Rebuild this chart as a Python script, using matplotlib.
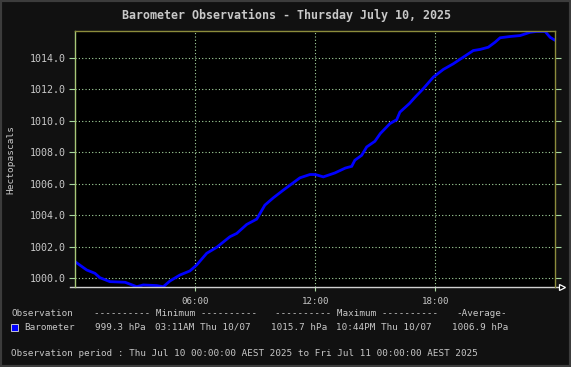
import matplotlib.pyplot as plt
from matplotlib.lines import Line2D
from matplotlib import rcParams

rcParams['font.family'] = 'DejaVu Sans Mono'

BG = '#111111'
FRAME = '#3c3c3c'
TXT = '#c8c8c8'
GRID = '#a8d8a0'
OLIVE = '#8c8c3c'
LEFT = '#a8c878'
AXLINE = '#d0d0d0'
LINE = '#0000ff'

# hours since midnight, pressure (hPa)
hours = [0.03, 0.57, 0.98, 1.23, 1.73, 2.49, 3.07, 3.4, 4.07, 4.4, 4.73, 5.23,
         5.73, 6.07, 6.57, 7.07, 7.73, 8.07, 8.57, 9.07, 9.48, 9.9, 10.4, 10.73,
         11.23, 11.73, 12.0, 12.4, 12.98, 13.5, 13.82, 13.98, 14.32, 14.57,
         14.98, 15.25, 15.73, 16.07, 16.23, 16.7, 16.99, 17.4, 17.9, 18.4,
         18.9, 19.4, 19.9, 20.24, 20.65, 20.99, 21.24, 21.74, 22.24, 22.74,
         23.07, 23.49, 23.74, 23.95]
hpa = [1001.02, 1000.53, 1000.32, 1000.04, 999.79, 999.75, 999.47, 999.58,
       999.54, 999.47, 999.83, 1000.21, 1000.47, 1000.85, 1001.59, 1001.97,
       1002.64, 1002.85, 1003.42, 1003.76, 1004.65, 1005.11, 1005.6, 1005.91,
       1006.38, 1006.59, 1006.59, 1006.44, 1006.69, 1007.0, 1007.11, 1007.5,
       1007.81, 1008.34, 1008.7, 1009.19, 1009.82, 1010.07, 1010.55, 1011.09,
       1011.5, 1012.04, 1012.77, 1013.26, 1013.62, 1014.04, 1014.46, 1014.53,
       1014.67, 1014.99, 1015.27, 1015.35, 1015.41, 1015.62, 1015.67, 1015.67,
       1015.3, 1015.14]

yticks = [1000, 1002, 1004, 1006, 1008, 1010, 1012, 1014]
xticks = [6, 12, 18]
xlabels = ['06:00', '12:00', '18:00']

W, H = 571, 367
fig = plt.figure(figsize=(W / 100, H / 100), dpi=100, facecolor=BG)


def px(x):
    return x / W


def py(y):
    return 1 - y / H


# outer frame
fig.patches.append(plt.Rectangle((0, 0), 1, 1, transform=fig.transFigure,
                                 fill=False, edgecolor=FRAME, linewidth=3))

ax = fig.add_axes([px(75.3), py(287), px(480), 256 / H], facecolor='black')
ax.plot(hours, hpa, color=LINE, lw=2.0, solid_joinstyle='miter')
ax.set_xlim(0, 24)
ax.set_ylim(999.45, 1015.7)

ax.set_yticks(yticks)
ax.set_yticklabels([f'{v:.1f}' for v in yticks])
ax.set_xticks(xticks)
ax.set_xticklabels(xlabels)
ax.grid(True, color=GRID, linestyle=(0, (1, 2)), linewidth=0.8)
ax.tick_params(axis='y', colors=GRID, labelcolor=TXT, labelsize=7.2, length=4,
               width=0.8, pad=3, right=True)
ax.tick_params(axis='x', colors=GRID, labelcolor=TXT, labelsize=6.6, length=3,
               width=0.8, pad=4)

ax.spines['left'].set_color(LEFT)
ax.spines['top'].set_color(OLIVE)
ax.spines['right'].set_color(OLIVE)
ax.spines['bottom'].set_visible(False)
for s in ['left', 'top', 'right']:
    ax.spines[s].set_linewidth(1.0)

# x axis line with arrow
ax.add_line(Line2D([-0.012, 1.005], [0, 0], transform=ax.transAxes,
                   color=AXLINE, lw=1.0, clip_on=False))
ax.plot([1.013], [0], transform=ax.transAxes, marker='>', ms=5, mfc='black',
        mec='white', mew=0.9, clip_on=False)

ax.set_ylabel('Hectopascals', color=TXT, fontsize=6.8, labelpad=10)

fig.text(px(286), py(15), 'Barometer Observations - Thursday July 10, 2025',
         color=TXT, fontsize=8.4, fontweight='bold', ha='center', va='center')

# legend
FS = 6.65
fig.text(px(11), py(314), 'Observation', color=TXT, fontsize=FS, va='center')
fig.text(px(94), py(314), '---------- Minimum ----------', color=TXT,
         fontsize=FS, va='center')
fig.text(px(275.3), py(314), '---------- Maximum ----------', color=TXT,
         fontsize=FS, va='center')
fig.text(px(456), py(314), '-Average-', color=TXT, fontsize=FS, va='center')

fig.patches.append(plt.Rectangle((px(11), py(330.5)), px(6.5), 6.5 / H,
                                 transform=fig.transFigure, facecolor=LINE,
                                 edgecolor='#e0e0e0', linewidth=0.6))
fig.text(px(24.3), py(327), 'Barometer', color=TXT, fontsize=FS, va='center')
fig.text(px(95), py(327), '999.3 hPa', color=TXT, fontsize=FS, va='center')
fig.text(px(155), py(327), '03:11AM Thu 10/07', color=TXT, fontsize=FS, va='center')
fig.text(px(270.7), py(327), '1015.7 hPa', color=TXT, fontsize=FS, va='center')
fig.text(px(336), py(327), '10:44PM Thu 10/07', color=TXT, fontsize=FS, va='center')
fig.text(px(451.7), py(327), '1006.9 hPa', color=TXT, fontsize=FS, va='center')

fig.text(px(11), py(353),
         'Observation period : Thu Jul 10 00:00:00 AEST 2025 to Fri Jul 11 00:00:00 AEST 2025',
         color=TXT, fontsize=FS, va='center')

plt.savefig('out.png', dpi=100, facecolor=BG)
plt.close()
